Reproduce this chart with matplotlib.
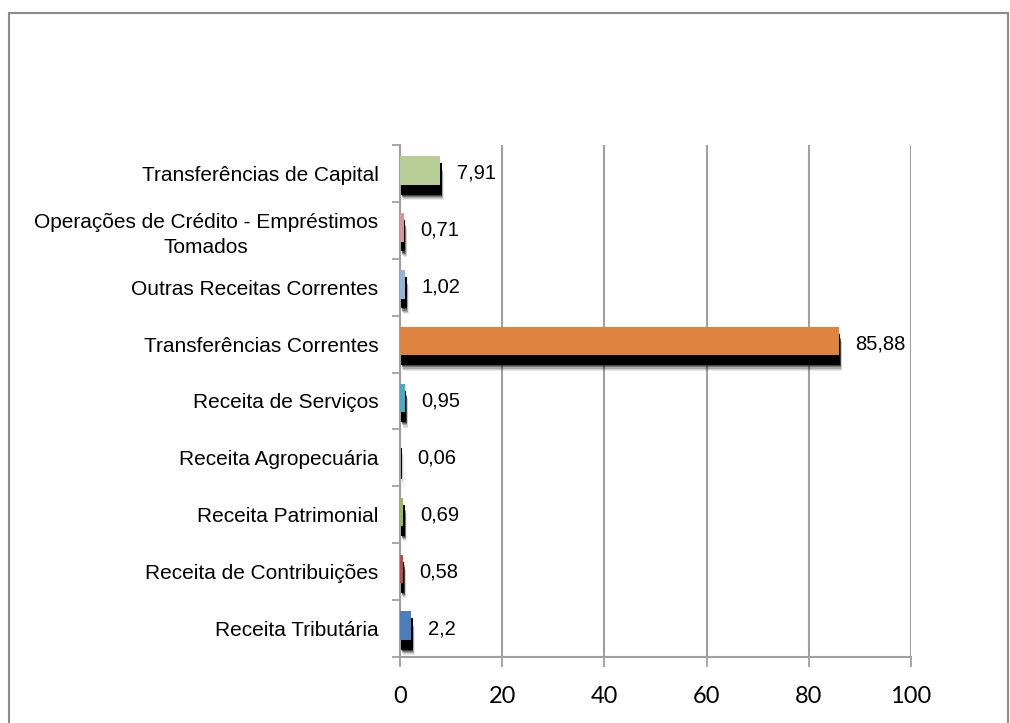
import matplotlib
matplotlib.use("Agg")
import matplotlib.pyplot as plt
import matplotlib.patheffects as pe
from matplotlib.patches import Rectangle
import numpy as np

# dados (de baixo para cima)
categorias = [
    "Receita Tributária",
    "Receita de Contribuições",
    "Receita Patrimonial",
    "Receita Agropecuária",
    "Receita de Serviços",
    "Transferências Correntes",
    "Outras Receitas Correntes",
    "Operações de Crédito - Empréstimos\nTomados",
    "Transferências de Capital",
]
valores = [2.2, 0.58, 0.69, 0.06, 0.95, 85.88, 1.02, 0.71, 7.91]
rotulos = ["2,2", "0,58", "0,69", "0,06", "0,95", "85,88", "1,02", "0,71", "7,91"]
cores = ["#4A7EBB", "#BE4B48", "#98B954", "#7D60A0", "#46AAC5",
         "#DE8440", "#95B3D7", "#D99694", "#B9CD96"]
xticks = [0, 20, 40, 60, 80, 100]

plt.rcParams["font.family"] = ["Liberation Sans", "DejaVu Sans"]

fig = plt.figure(figsize=(10.1, 7.23), dpi=100)
ax = fig.add_axes([0.396, 0.0913, 0.506, 0.7082])

# moldura do gráfico
fig.patches.append(Rectangle((0.009, -0.05), 0.989, 1.032, transform=fig.transFigure,
                             fill=False, edgecolor="#8C8C8C", linewidth=1.5))

y = np.arange(len(categorias))
# sombra "borrada": varias camadas pretas translucidas
sombra = []
for dx, dy, a in [(2.4, -11.0, 0.08), (2.1, -10.2, 0.12), (1.8, -9.4, 0.18),
                  (1.5, -8.6, 0.28), (1.3, -7.8, 0.45), (1.1, -7.0, 1.0),
                  (1.0, -5.0, 1.0)]:
    sombra.append(pe.SimplePatchShadow(offset=(dx, dy), shadow_rgbFace="black", alpha=a))
sombra.append(pe.Normal())

barras = ax.barh(y + 0.05, valores, height=0.5, color=cores, zorder=3)
for b in barras:
    b.set_path_effects(sombra)

for yi, v, r in zip(y, valores, rotulos):
    ax.annotate(r, (v, yi), xytext=(12, 0), textcoords="offset points",
                va="center", ha="left", fontsize=14.5, color="black")

ax.set_xlim(0, 100)
ax.set_ylim(-0.5, len(categorias) - 0.5)
ax.set_xticks(xticks)
ax.set_xticklabels([str(t) for t in xticks], fontsize=17, family=["Lato", "DejaVu Sans"])
ax.set_yticks(y)
ax.set_yticklabels(categorias, fontsize=15, multialignment="center", linespacing=1.35)
ax.set_yticks(np.arange(-0.5, len(categorias), 1), minor=True)

ax.tick_params(axis="y", which="major", length=0, pad=15.5)
ax.tick_params(axis="y", which="minor", length=6, width=1.3, color="#A0A0A0", direction="out")
ax.tick_params(axis="x", which="major", length=7, width=1.3, color="#A0A0A0", pad=14)

ax.grid(axis="x", color="#A0A0A0", linewidth=1.5, zorder=0)
ax.set_axisbelow(True)
for s in ["top", "right"]:
    ax.spines[s].set_visible(False)
for s in ["left", "bottom"]:
    ax.spines[s].set_color("#A0A0A0")
    ax.spines[s].set_linewidth(1.5)

fig.savefig("out.png", dpi=100)
